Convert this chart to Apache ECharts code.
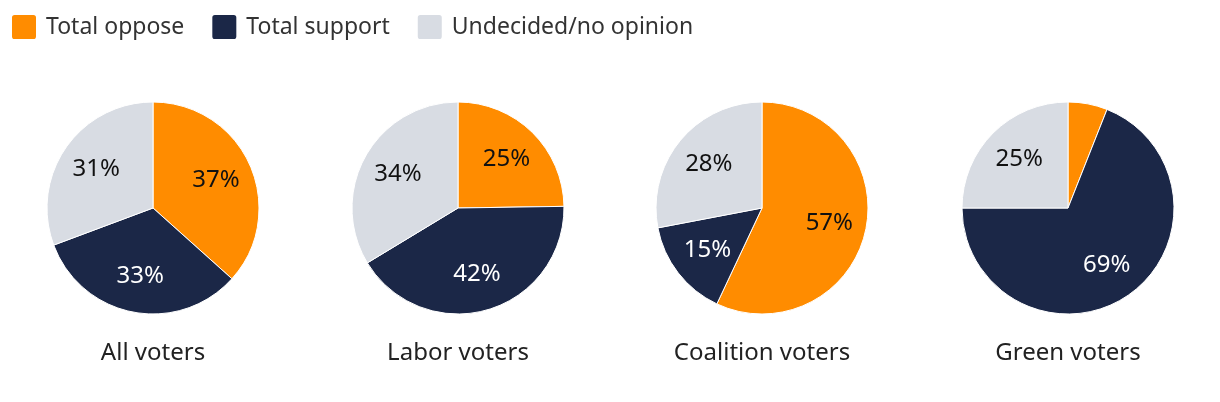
<!DOCTYPE html>
<html><head><meta charset="utf-8">
<script src="https://cdn.jsdelivr.net/npm/echarts@6/dist/echarts.min.js"></script>
<style>html,body{margin:0;padding:0;background:#fff}#c{width:1220px;height:402px}</style>
</head><body><div id="c"></div>
<script>
const groups = ['All voters', 'Labor voters', 'Coalition voters', 'Green voters'];
const seriesNames = ['Total oppose', 'Total support', 'Undecided/no opinion'];
const oppose = [37, 25, 57, 6];
const support = [33, 42, 15, 69];
const undecided = [31, 34, 28, 25];
const colors = ['#FF8C00', '#1B2747', '#D8DCE3'];
const labelColors = ['#111', '#fff', '#111'];
const centersX = [153, 458, 762, 1068];
const FONT = '"Noto Sans", sans-serif';

const chart = echarts.init(document.getElementById('c'), null, {renderer: 'canvas'});
const series = [];
groups.forEach((g, i) => {
  const vals = [oppose[i], support[i], undecided[i]];
  const data = seriesNames.map((n, k) => ({name: n, value: vals[k], itemStyle: {color: colors[k]}, label: {color: labelColors[k]}}));
  series.push({
    type: 'pie', name: g, center: [centersX[i], 208], radius: [0, 106],
    startAngle: 90, clockwise: true, animation: false,
    itemStyle: {borderColor: '#fff', borderWidth: 1},
    label: {show: false}, labelLine: {show: false}, emphasis: {disabled: true},
    data: data
  });
  series.push({
    type: 'pie', name: g + ' labels', center: [centersX[i], 208], radius: [26, 106],
    startAngle: 90, clockwise: true, animation: false, silent: true,
    itemStyle: {color: 'rgba(0,0,0,0)', borderWidth: 0},
    label: {show: true, position: 'inside', fontSize: 24, fontFamily: FONT,
      formatter: p => p.value < 10 ? '' : p.value + '%'},
    labelLine: {show: false}, emphasis: {disabled: true},
    data: data.map(d => ({name: d.name, value: d.value, itemStyle: {color: 'rgba(0,0,0,0)'}, label: d.label})),
    legendHoverLink: false
  });
});

chart.setOption({
  animation: false,
  color: colors,
  legend: {
    data: seriesNames.map((n, k) => ({name: n, itemStyle: {color: colors[k]}})),
    left: 5, top: 8, itemWidth: 26, itemHeight: 26, itemGap: 26,
    icon: 'path://M3,0 H19 Q22,0 22,3 V19 Q22,22 19,22 H3 Q0,22 0,19 V3 Q0,0 3,0 Z',
    textStyle: {fontSize: 23, fontFamily: FONT, color: '#333', padding: [0, 0, 0, 4], lineHeight: 26},
    selectedMode: false
  },
  series: series,
  graphic: groups.map((g, i) => ({
    type: 'text', x: centersX[i], y: 353,
    style: {text: g, fontSize: 24, fontFamily: FONT, fill: '#222', align: 'center', verticalAlign: 'middle'}
  }))
});
</script></body></html>
